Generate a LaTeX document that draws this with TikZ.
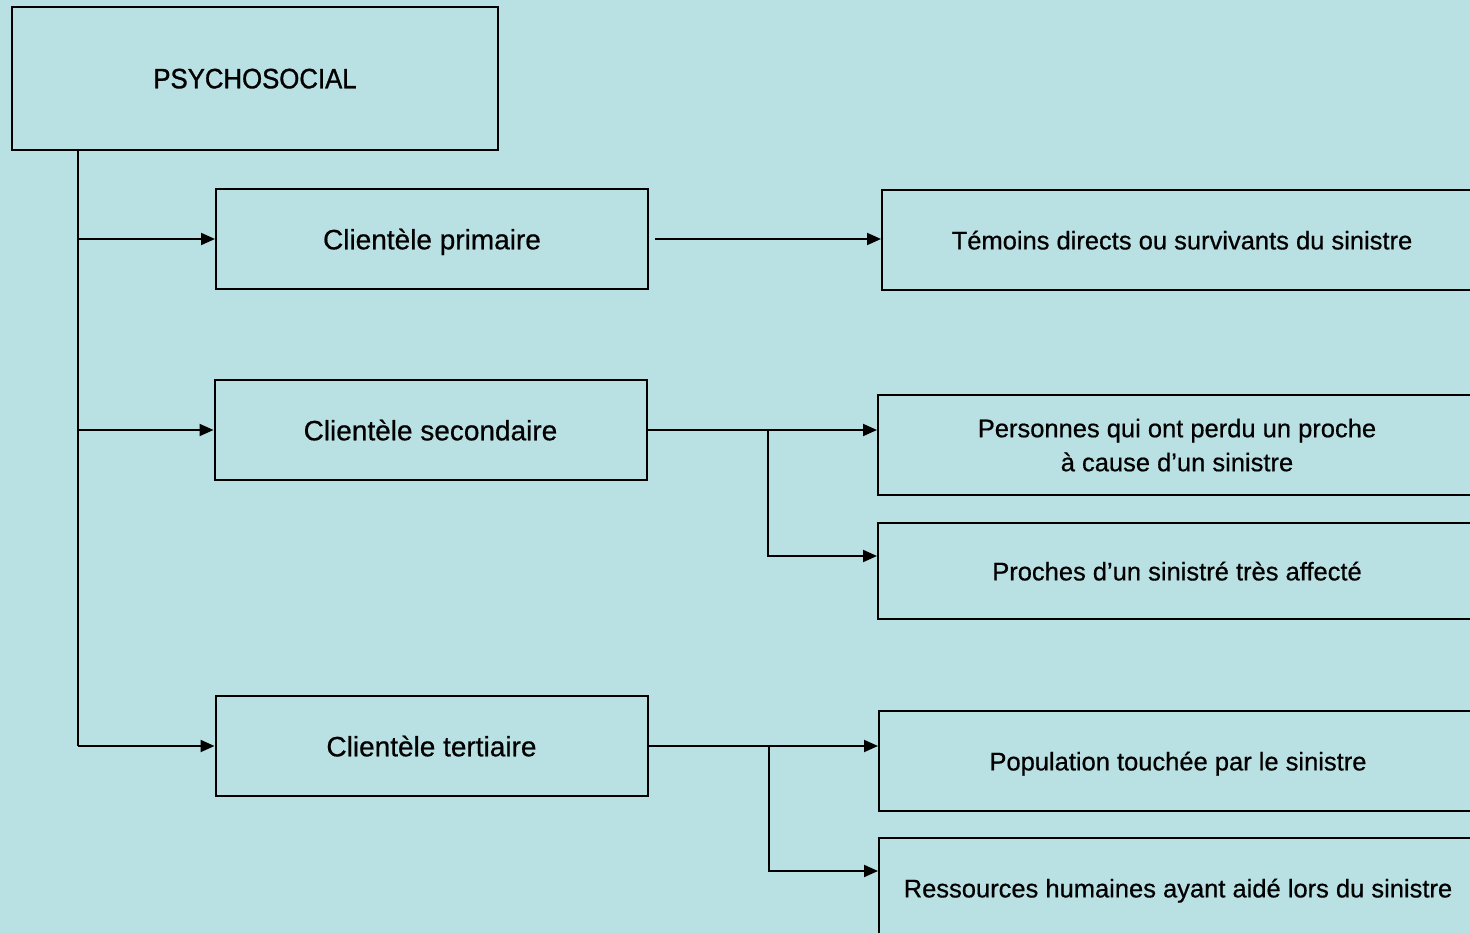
\documentclass[tikz,border=0pt]{standalone}
\usepackage{fontspec}
\setmainfont{Liberation Sans}
\newfontfamily\boxfont[FakeBold=0.6]{Liberation Sans}
\newfontfamily\narrowfont[FakeStretch=0.92,FakeBold=1]{Liberation Sans}
\usepackage{tikz}
\usetikzlibrary{calc,positioning,arrows.meta}
\definecolor{bgblue}{RGB}{185,224,227}
\tikzstyle{block} = [rectangle, draw, line width=2pt, inner sep=0pt,
    text centered, minimum width=432pt, minimum height=100pt,
    text depth=0pt, font=\boxfont\fontsize{28}{32}\selectfont]
\tikzstyle{leaf} = [rectangle, draw, line width=2pt, inner sep=0pt,
    text centered, minimum width=598pt, minimum height=100pt,
    text depth=0pt, font=\boxfont\fontsize{25.5}{34}\selectfont, align=center]
\tikzstyle{line} = [draw, line width=2pt, -{Triangle[length=14pt,width=12pt]}]

\begin{document}
\begin{tikzpicture}[x=1pt, y=-1pt]
        \useasboundingbox (0,0) rectangle (1470,933);
        \clip (0,0) rectangle (1470,933);
        \fill [bgblue] (0,0) rectangle (1470,933);
        % Place nodes
        \node [block, minimum width=486pt, minimum height=143pt,
            font=\narrowfont\fontsize{28}{32}\selectfont] (psy) at (255,78.5) {PSYCHOSOCIAL};
        \node [block] (primaire) at (432,239) {Clientèle primaire};
        \node [block] (secondaire) at (430.5,430) {Clientèle secondaire};
        \node [block] (tertiaire) at (431.5,746) {Clientèle tertiaire};
        \node [leaf, minimum width=600pt] (temoins) at (1182,240) {Témoins directs ou survivants du sinistre};
        \node [leaf] (perdu) at (1177,445) {Personnes qui ont perdu un proche\\à cause d’un sinistre};
        \node [leaf, minimum height=96pt] (proches) at (1177,571) {Proches d’un sinistré très affecté};
        \node [leaf] (population) at (1178,761) {Population touchée par le sinistre};
        \node [leaf] (ressources) at (1178,888) {Ressources humaines ayant aidé lors du sinistre};
        \coordinate (trunk) at ($(psy.south west)+(67,0)$);
        \coordinate (split2) at ($(secondaire.east)+(120,0)$);
        \coordinate (split3) at ($(tertiaire.east)+(120,0)$);
        % Draw edges
        \draw [line width=2pt] (trunk) -- (trunk |- tertiaire.west);
        \path [line] (trunk |- primaire.west) -- (primaire.west);
        \path [line] (trunk |- secondaire.west) -- (secondaire.west);
        \path [line] (trunk |- tertiaire.west) -- (tertiaire.west);
        \path [line, shorten <=6pt] (primaire.east) -- (primaire.east -| temoins.west);
        \path [line] (secondaire.east) -- (secondaire.east -| perdu.west);
        \path [line] (split2) |- ([yshift=15pt]proches.west);
        \path [line] (tertiaire.east) -- (tertiaire.east -| population.west);
        \path [line] (split3) |- ([yshift=-34pt]ressources.north west);
    \end{tikzpicture}
\end{document}
